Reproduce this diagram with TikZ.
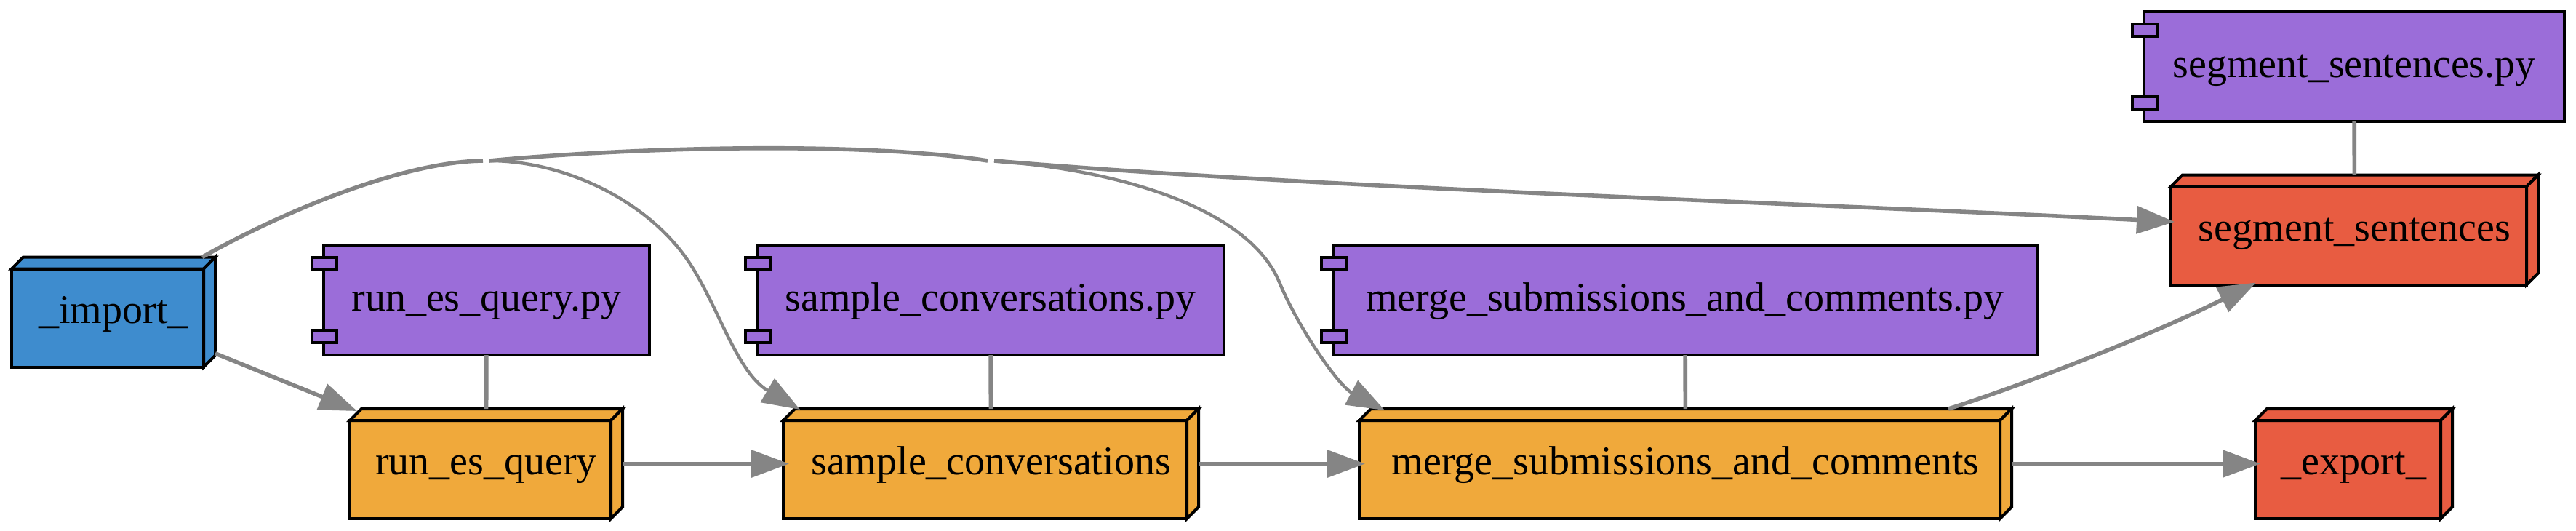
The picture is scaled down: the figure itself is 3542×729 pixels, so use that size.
\documentclass[tikz,border=0pt]{standalone}
\usepackage{fontspec}
\setmainfont{Liberation Serif}
\usetikzlibrary{arrows.meta,calc,backgrounds}
\definecolor{cblue}{RGB}{62,140,206}
\definecolor{cpurple}{RGB}{155,109,217}
\definecolor{corange}{RGB}{240,169,59}
\definecolor{cred}{RGB}{232,92,65}
\definecolor{egray}{RGB}{133,133,133}
\newcommand\gvboxthreed[2]{%
  \begin{pgfonlayer}{background}
    \draw[gvborder,fill=#2] (#1.south west) rectangle ($(#1.north east)+(-16,16)$);
    \draw[gvborder,fill=#2] ($(#1.north west)+(0,16)$) -- ($(#1.north west)+(16,0)$) -- (#1.north east) -- ($(#1.north east)+(-16,16)$) -- cycle;
    \draw[gvborder,fill=#2] ($(#1.north east)+(-16,16)$) -- (#1.north east) -- ($(#1.south east)+(0,-16)$) -- ($(#1.south east)+(-16,0)$) -- cycle;
  \end{pgfonlayer}}
\newcommand\gvtabs[1]{%
  \draw[gvborder,fill=cpurple] ($(#1.north west)+(-16,17)$) rectangle ($(#1.north west)+(18,34)$);
  \draw[gvborder,fill=cpurple] ($(#1.south west)+(-16,-34)$) rectangle ($(#1.south west)+(18,-17)$);}
\begin{document}
\begin{tikzpicture}[x=0.25bp,y=-0.25bp,
  gvtext/.style={font=\fontsize{14bp}{16bp}\selectfont, text height=10bp, text depth=2.5bp,
    inner sep=0pt, outer sep=0pt, minimum height=37.75bp, rectangle},
  boxnode/.style={gvtext, draw=none},
  compnode/.style={gvtext, draw=black, line width=1bp, fill=cpurple},
  gvborder/.style={draw=black, line width=1bp, line join=miter},
  gvedge/.style={draw=egray, line width=1.4bp},
  thinedge/.style={draw=egray, line width=1.1bp},
  gvtip/.style={-{Triangle[length=13bp,width=9.3bp]}},
  gapnode/.style={inner sep=0pt, outer sep=0pt, minimum width=2.25bp, minimum height=1bp},
]
\useasboundingbox (0,0) rectangle (3542,729);
\begin{pgfonlayer}{background}
  \fill[white] (0,0) rectangle (3542,729);
\end{pgfonlayer}

% box3d nodes
\node[boxnode, minimum width=70bp]     (imp)   at (156,429)    {\_import\_};
\node[boxnode, minimum width=93.75bp]  (runq)  at (668.5,637.5) {run\_es\_query};
\node[boxnode, minimum width=142.75bp] (samp)  at (1362.5,637.5) {sample\_conversations};
\node[boxnode, minimum width=224.25bp] (merge) at (2317.5,637.5) {merge\_submissions\_and\_comments};
\node[boxnode, minimum width=67.75bp]  (exp)   at (3236.5,637.5) {\_export\_};
\node[boxnode, minimum width=126.25bp] (seg)   at (3237.5,316)  {segment\_sentences};
\gvboxthreed{imp}{cblue}
\gvboxthreed{runq}{corange}
\gvboxthreed{samp}{corange}
\gvboxthreed{merge}{corange}
\gvboxthreed{exp}{cred}
\gvboxthreed{seg}{cred}

% component nodes
\node[compnode, minimum width=112bp]   (runpy)   at (669,412.5)  {run\_es\_query.py};
\node[compnode, minimum width=160.5bp] (samppy)  at (1362,412.5) {sample\_conversations.py};
\node[compnode, minimum width=242bp]   (mergepy) at (2317,412.5) {merge\_submissions\_and\_comments.py};
\node[compnode, minimum width=144.5bp] (segpy)   at (3237,91.5)  {segment\_sentences.py};
\gvtabs{runpy}
\gvtabs{samppy}
\gvtabs{mergepy}
\gvtabs{segpy}

% junction points of the merged edges
\node[gapnode] (g1) at (668.5,221) {};
\node[gapnode] (g2) at (1362.5,221) {};

% script -> step connectors
\draw[gvedge] (runpy) -- (runq);
\draw[gvedge] (samppy) -- (samp);
\draw[gvedge] (mergepy) -- (merge);
\draw[gvedge] (segpy) -- (seg);

% pipeline edges
\coordinate (t1) at ($(runq.north west)+(10,3)$);
\draw[gvedge,gvtip] (imp) -- (t1);
\draw[gvedge,gvtip,shorten >=-2bp] (runq) -- (samp);
\draw[gvedge,gvtip,shorten >=-2bp] (samp) -- (merge);
\draw[gvedge,gvtip,shorten >=-1.75bp] (merge) -- (exp);

% merged edges from _import_
\draw[gvedge] ($(imp.north east)+(-18,0)$) .. controls (400,285) and (560,222) .. (g1.west);
\draw[gvedge] (g1.east) .. controls (900,200) and (1200,196) .. (g2.west);
\draw[thinedge,gvtip] (g1.east) .. controls (770,221) and (880,270) .. (940,350)
  .. controls (985,410) and (1010,510) .. ($(samp.north west)+(23,1)$);
\draw[gvedge,gvtip] (g2.east) .. controls (1800,258) and (2500,280) .. ($(seg.west)+(5,-11)$);
\draw[thinedge,gvtip] (g2.east) .. controls (1550,235) and (1720,290) .. (1760,390)
  .. controls (1785,450) and (1840,530) .. ($(merge.north west)+(35,2)$);

% merge -> segment_sentences
\draw[gvedge,gvtip] ($(merge.north east)+(-87,0)$) .. controls (2780,530) and (2960,460) .. ($(seg.south west)+(117,-3)$);
\end{tikzpicture}
\end{document}
